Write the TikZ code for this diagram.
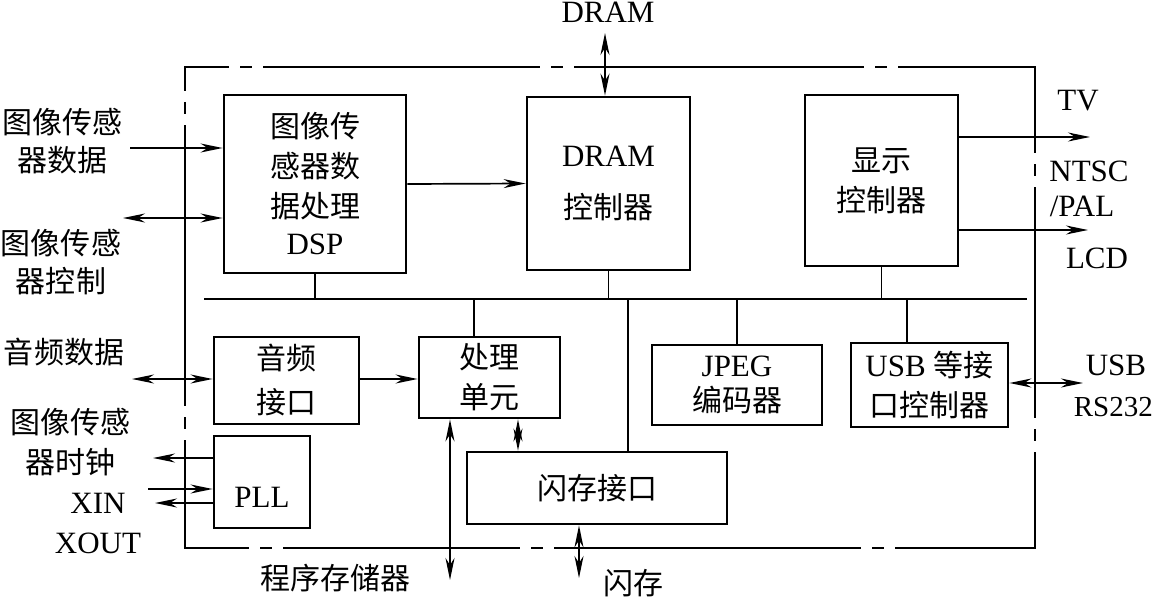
\documentclass[tikz,border=0pt]{standalone}
\usepackage{fontspec}
\setmainfont{Liberation Serif}
\newfontfamily\cjk{Noto Sans CJK SC}
\usetikzlibrary{arrows.meta}
\newcommand{\zh}[1]{{\cjk\fontsize{30}{40}\selectfont #1}}
\begin{document}
\begin{tikzpicture}[x=1pt,y=-1pt,
  every node/.style={font=\fontsize{31}{40}\selectfont, inner sep=0pt, align=center},
  blk/.style={draw, line width=2.8pt},
  ln/.style={line width=1.7pt},
  tip/.tip={Stealth[length=22pt,width=9pt,inset=7pt]},
  arr/.style={ln, -tip},
  darr/.style={ln, tip-tip}]
\useasboundingbox (0,0) rectangle (1155,599);
% outer frame (dash-dot, each side drawn separately)
\coordinate (fTL) at (185,67);
\coordinate (fTR) at (1035,67);
\coordinate (fBL) at (185,548);
\coordinate (fBR) at (1035,548);
\draw[ln, dash pattern=on 45pt off 11pt on 12pt off 11pt on 277pt off 11pt on 12pt off 11pt on 290pt off 11pt on 12pt off 11pt on 400pt]
  ([xshift=-0.85pt]fTL) -- ([xshift=0.85pt]fTR);
\draw[ln, dash pattern=on 65pt off 11pt on 12pt off 11pt on 237pt off 11pt on 12pt off 11pt on 307pt off 11pt on 12pt off 11pt on 400pt]
  ([xshift=-0.85pt]fBL) -- ([xshift=0.85pt]fBR);
\draw[ln, dash pattern=on 24pt off 11pt on 12pt off 11pt on 281pt off 11pt on 12pt off 11pt on 400pt]
  (fTL) -- (fBL);
\draw[ln, dash pattern=on 86pt off 11pt on 12pt off 11pt on 231pt off 11pt on 12pt off 11pt on 400pt]
  (fTR) -- (fBR);
% blocks
\node[blk, minimum width=182pt, minimum height=178pt] (dsp) at (315,184)
  {\zh{图像传}\\\zh{感器数}\\\zh{据处理}\\[-3pt]DSP};
\node[blk, minimum width=163pt, minimum height=173pt] (dramc) at (608.5,183.5)
  {DRAM\\[12pt]\zh{控制器}};
\node[blk, minimum width=153pt, minimum height=171pt] (disp) at (881.5,180.5)
  {\zh{显示}\\\zh{控制器}};
\node[blk, minimum width=145pt, minimum height=87pt] (audio) at (286.5,380.5)
  {\zh{音频}\\[4pt]\zh{接口}};
\node[blk, minimum width=141pt, minimum height=81pt] (cpu) at (489.5,377.5)
  {\zh{处理}\\\zh{单元}};
\node[blk, minimum width=170pt, minimum height=80pt] (jpeg) at (737,385)
  {JPEG\\[-5pt]\zh{编码器}};
\node[blk, minimum width=157pt, minimum height=84pt] (usb) at (929.5,385)
  {USB \zh{等接}\\\zh{口控制器}};
\node[blk, minimum width=96pt, minimum height=92pt] (pll) at (262,482) {};
\node (pllt) at (262,497) {PLL};
\node[blk, minimum width=260pt, minimum height=72pt] (flash) at (597,488) {\zh{闪存接口}};
% bus
\coordinate (busL) at (204,299);
\coordinate (busR) at (1027,299);
\draw[ln] (busL) -- (busR);
\draw[ln] (dsp.south) -- (dsp.south |- busL);
\draw[ln] (dramc.south) -- (dramc.south |- busL);
\draw[ln] (disp.south) -- (disp.south |- busL);
\draw[ln] ([xshift=-15.5pt]cpu.north) -- ([xshift=-15.5pt]cpu.north |- busL);
\draw[ln] (jpeg.north) -- (jpeg.north |- busL);
\draw[ln] ([xshift=-22.5pt]usb.north) -- ([xshift=-22.5pt]usb.north |- busL);
\draw[ln] ([xshift=31pt]flash.north) -- ([xshift=31pt]flash.north |- busL);
% internal arrows
\draw[arr] (dsp.east) -- (dramc.west);
\draw[arr] (audio.east |- 0,379) -- (cpu.west |- 0,379);
\coordinate (cf) at (518,0);
\draw[darr] (cf |- cpu.south) -- (cf |- flash.north);
% external labels
\node (dram) at (608,12) {DRAM};
\node (l1) at (62,141) {\zh{图像传感}\\[-2pt]\zh{器数据}};
\node (l2) at (61,262) {\zh{图像传感}\\[-2pt]\zh{器控制}};
\node (l3) at (64,352) {\zh{音频数据}};
\node (l4) at (70,442) {\zh{图像传感}\\\zh{器时钟}};
\node (xin) at (98,503) {XIN};
\node (xout) at (98,543) {XOUT};
\node (prog) at (335,578) {\zh{程序存储器}};
\node (fl) at (633,583) {\zh{闪存}};
\node (tv) at (1078,101) {TV};
\node (ntsc) at (1089,171) {NTSC};
\node (pal) at (1082,206) {/PAL};
\node (lcd) at (1097,258) {LCD};
\node (usbl) at (1116,365) {USB};
\node[anchor=east, font=\fontsize{29}{40}\selectfont] (rs) at (1153,407) {RS232};
% external arrows
\coordinate (in1) at (130,148);
\draw[arr] (in1) -- (in1 -| dsp.west);
\coordinate (in2) at (123,218);
\draw[darr] (in2) -- (in2 -| dsp.west);
\coordinate (in3) at (132,379);
\draw[darr] (in3) -- (in3 -| audio.west);
\coordinate (clk) at (153,458);
\draw[arr] (clk -| pll.west) -- (clk);
\coordinate (xi) at (148,489);
\draw[arr] (xi) -- (xi -| pll.west);
\coordinate (xo) at (155,503);
\draw[arr] (xo -| pll.west) -- (xo);
\coordinate (dtop) at (605,33);
\draw[darr] (dtop) -- (dtop |- dramc.north);
\coordinate (tve) at (1090,137);
\draw[arr] (disp.east |- tve) -- (tve);
\coordinate (lcde) at (1088,230);
\draw[arr] (disp.east |- lcde) -- (lcde);
\coordinate (usbe) at (1083,383);
\draw[darr] (usb.east |- usbe) -- (usbe);
\coordinate (pm) at (450,580);
\draw[darr] (pm |- cpu.south) -- (pm);
\coordinate (fm) at (579,578);
\draw[darr] (fm |- flash.south) -- (fm);
\end{tikzpicture}
\end{document}
